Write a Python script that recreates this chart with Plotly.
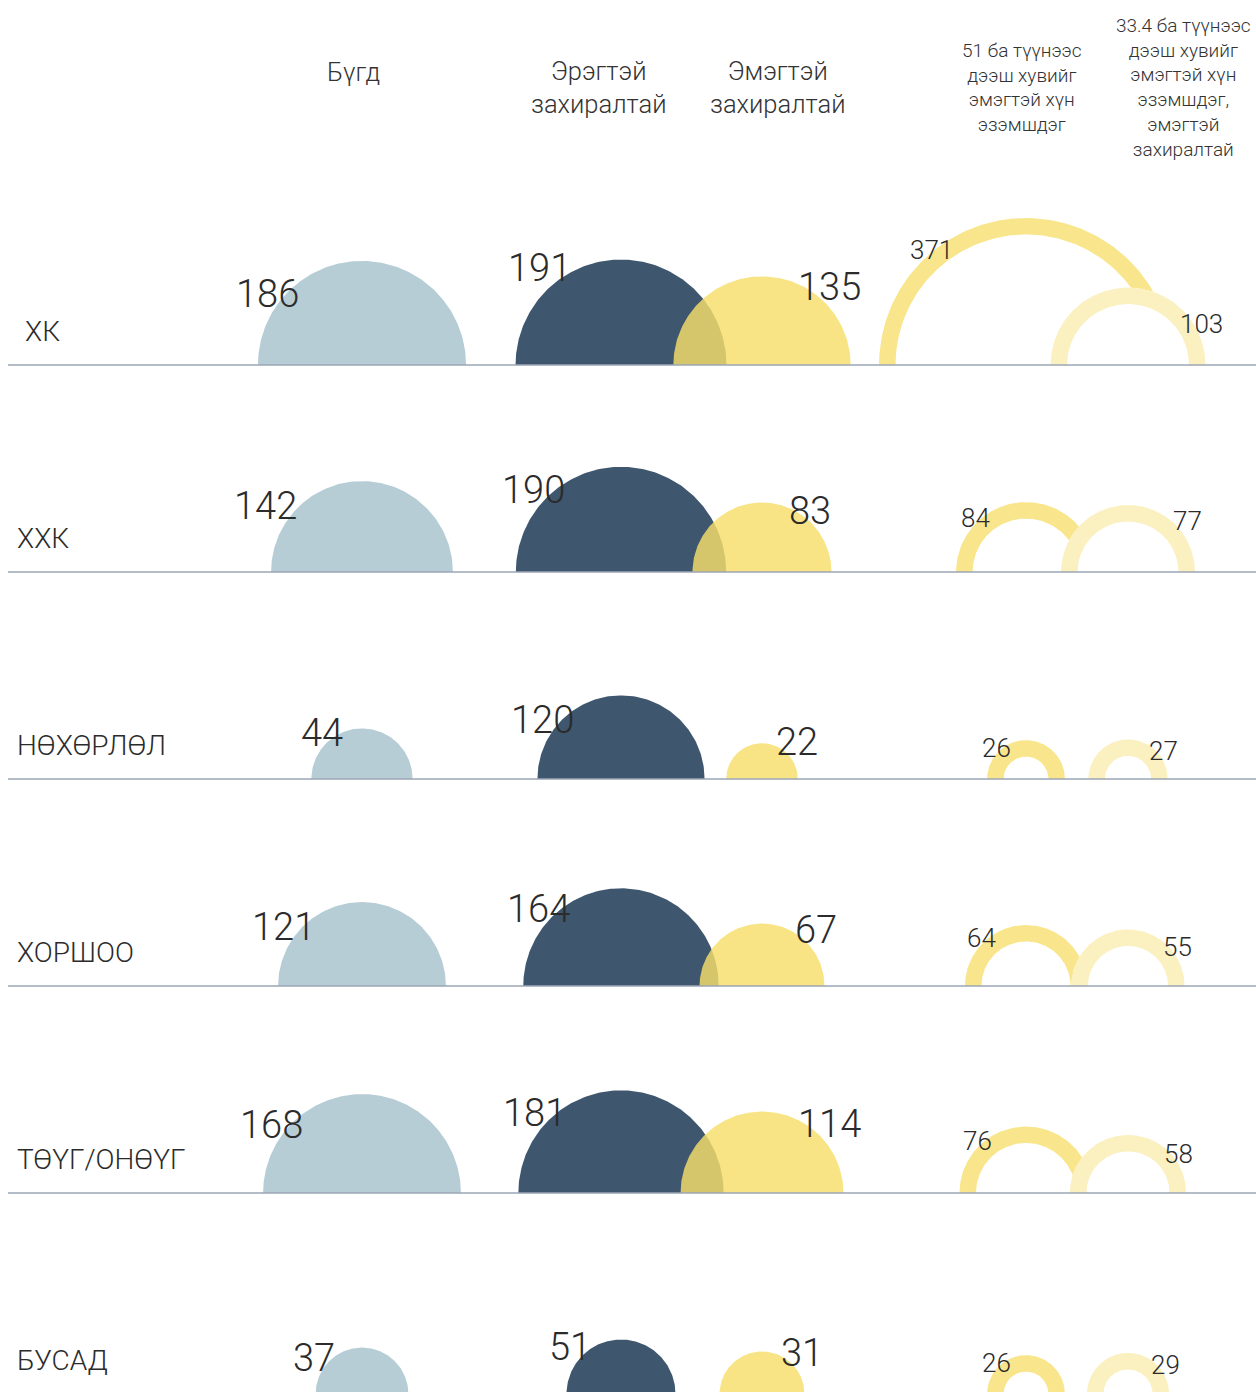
import numpy as np
import plotly.graph_objects as go

# ---- data ----
rows = ["ХК", "ХХК", "НӨХӨРЛӨЛ", "ХОРШОО", "ТӨҮГ/ОНӨҮГ", "БУСАД"]
total = [186, 142, 44, 121, 168, 37]
male_led = [191, 190, 120, 164, 181, 51]
female_led = [135, 83, 22, 67, 114, 31]
women_own_51 = [371, 84, 26, 64, 76, 26]
women_own_334_led = [103, 77, 27, 55, 58, 29]

headers = [
    "Бүгд",
    "Эрэгтэй<br>захиралтай",
    "Эмэгтэй<br>захиралтай",
    "51 ба түүнээс<br>дээш хувийг<br>эмэгтэй хүн<br>эзэмшдэг",
    "33.4 ба түүнээс<br>дээш хувийг<br>эмэгтэй хүн<br>эзэмшдэг,<br>эмэгтэй<br>захиралтай",
]

# ---- layout constants ----
W, H = 1256, 1392
BASELINES = [365, 572, 779, 986, 1193, 1394]
R_SCALE = 7.63          # px per sqrt(unit): area is proportional to value
RING_W = 16.5
FONT = "Roboto"
TXT = "#2b2b2b"

C_TOTAL = "#b6cdd6"
C_MALE = "#3e566e"
C_FEMALE = "#f6de6a"
C_RING1 = "#f9e68c"
C_RING2 = "#fbf0c0"

# column centre x, label angle (deg), label padding, label font size
cols = {
    "total": (362, 143, 14, 38),
    "male": (621, 137, 15, 38),
    "female": (762, 46, 15, 38),
    "ring1": (1026, 133, 4, 26),
    "ring2": (1128, 38, 6, 26),
}

# hand nudges (px) for labels that would otherwise crowd their shape
label_nudge = {
    ("total", 1): (-13, -3),
    ("total", 2): (12, -7),
    ("male", 0): (7, -15),
    ("male", 2): (-6, 8),
    ("female", 1): (-11, 0),
    ("female", 0): (-5, -3),
    ("ring1", 0): (8, -5),
    ("ring2", 0): (8, 10),
    ("ring2", 1): (2, -6),
}

t = np.linspace(0, np.pi, 160)


def radius(v):
    return R_SCALE * np.sqrt(v)


def half_disc(cx, y0, r):
    return cx + r * np.cos(t), y0 - r * np.sin(t)


def half_ring(cx, y0, r, w):
    xo, yo = half_disc(cx, y0, r)
    xi, yi = half_disc(cx, y0, r - w)
    return np.concatenate([xo, xi[::-1], xo[:1]]), np.concatenate([yo, yi[::-1], yo[:1]])


fig = go.Figure()


def add_poly(x, y, color, opacity=1.0):
    fig.add_trace(go.Scatter(
        x=x, y=y, mode="lines", fill="toself", fillcolor=color,
        line=dict(width=0, color=color), opacity=opacity,
        hoverinfo="skip", showlegend=False,
    ))


annotations = []


def value_label(key, i, y0, v):
    cx, ang, pad, size = cols[key]
    d = radius(v) + pad
    a = np.deg2rad(ang)
    nx, ny = label_nudge.get((key, i), (0, 0))
    annotations.append(dict(
        x=cx + d * np.cos(a) + nx, y=y0 - d * np.sin(a) + ny, xref="x", yref="y",
        text=str(v), showarrow=False, xanchor="center", yanchor="middle",
        font=dict(family=FONT, size=size, color=TXT, weight=300),
    ))


for i, y0 in enumerate(BASELINES):
    # total
    x, y = half_disc(cols["total"][0], y0, radius(total[i]))
    add_poly(x, y, C_TOTAL)
    # male-led
    x, y = half_disc(cols["male"][0], y0, radius(male_led[i]))
    add_poly(x, y, C_MALE)
    # female-led, translucent over male-led
    x, y = half_disc(cols["female"][0], y0, radius(female_led[i]))
    add_poly(x, y, C_FEMALE, opacity=0.82)
    # ownership rings
    x, y = half_ring(cols["ring1"][0], y0, radius(women_own_51[i]), RING_W)
    add_poly(x, y, C_RING1)
    r2 = radius(women_own_334_led[i])
    x, y = half_disc(cols["ring2"][0], y0, r2)
    add_poly(x, y, "#ffffff")
    x, y = half_ring(cols["ring2"][0], y0, r2, RING_W)
    add_poly(x, y, C_RING2)

    value_label("total", i, y0, total[i])
    value_label("male", i, y0, male_led[i])
    value_label("female", i, y0, female_led[i])
    value_label("ring1", i, y0, women_own_51[i])
    value_label("ring2", i, y0, women_own_334_led[i])

    annotations.append(dict(
        x=23 if i == 0 else 15, y=y0 - 34, xref="x", yref="y",
        text=rows[i], showarrow=False, xanchor="left", yanchor="middle",
        font=dict(family=FONT, size=28, color=TXT, weight=300),
    ))

# column headers
header_pos = [(353, 72, 25.5), (598, 87, 25.5), (777, 87, 25.5), (1022, 87, 19), (1183, 87, 19)]
for (hx, hy, hs), txt in zip(header_pos, headers):
    annotations.append(dict(
        x=hx, y=hy, xref="x", yref="y", text=txt, showarrow=False,
        xanchor="center", yanchor="middle", align="center",
        font=dict(family=FONT, size=hs, color="#333333", weight=300),
    ))

shapes = [
    dict(type="line", xref="x", yref="y", x0=8, x1=W, y0=y0, y1=y0,
         line=dict(color="#9ba6b5", width=1.5), layer="above")
    for y0 in BASELINES
]

fig.update_layout(
    width=W, height=H, margin=dict(l=0, r=0, t=0, b=0),
    paper_bgcolor="white", plot_bgcolor="white",
    xaxis=dict(range=[0, W], visible=False, fixedrange=True),
    yaxis=dict(range=[H, 0], visible=False, fixedrange=True),
    annotations=annotations, shapes=shapes, showlegend=False,
)

fig.write_html("out.html", config={"displayModeBar": False})
